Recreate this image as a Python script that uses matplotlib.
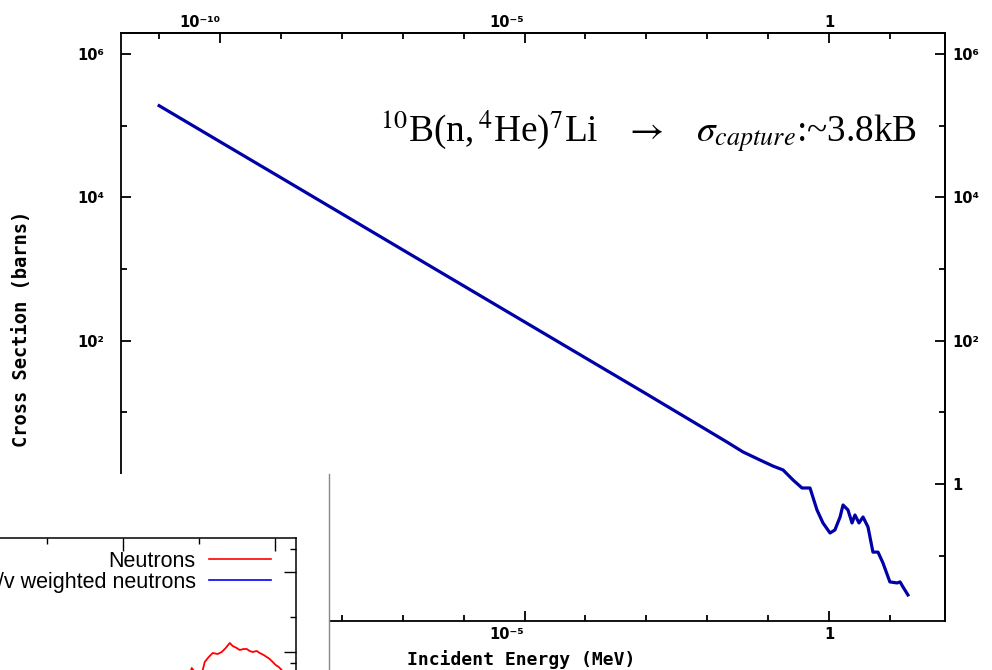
import matplotlib.pyplot as plt
from matplotlib.lines import Line2D
from matplotlib.ticker import FixedLocator, FixedFormatter, NullFormatter

plt.rcParams["mathtext.fontset"] = "stix"

# 10B(n,alpha) cross section, energy in MeV, cross section in barns
energy_mev = [1.0e-11, 1.0e-10, 1.0e-9, 1.0e-8, 1.0e-7, 1.0e-6, 1.0e-5, 1.0e-4,
              1.0e-3, 1.68e-3, 8.53e-3, 0.0211, 0.0387, 0.0736, 0.120, 0.176,
              0.256, 0.360, 0.488, 0.635, 0.796, 1.04, 1.25, 1.52, 1.70, 2.05,
              2.39, 2.67, 3.11, 3.62, 4.37, 5.27, 6.38, 7.70, 10.0, 13.1, 14.7,
              16.4, 19.8]
xs_barns = [1.90e5, 5.97e4, 1.88e4, 5.90e3, 1.85e3, 582, 183, 57.5,
            18.1, 13.9, 6.10, 3.85, 2.80, 2.16, 1.78, 1.57,
            1.14, 0.879, 0.879, 0.434, 0.286, 0.207, 0.228, 0.346, 0.509, 0.434,
            0.286, 0.369, 0.286, 0.346, 0.251, 0.112, 0.112, 0.079, 0.043, 0.0416, 0.043,
            0.0366, 0.0283]

x_major = [1e-10, 1e-5, 1.0]
x_major_labels = ["10\u207b\u00b9\u2070", "10\u207b\u2075", "1"]
x_minor = [1e-11, 1e-9, 1e-8, 1e-7, 1e-6, 1e-4, 1e-3, 1e-2, 1e-1, 10.0]
y_major = [1.0, 1e2, 1e4, 1e6]
y_major_labels = ["1", "10\u00b2", "10\u2074", "10\u2076"]
y_minor = [1e-1, 1e1, 1e3, 1e5]

# neutron spectrum panel (log10 energy, relative flux)
spec_logE = [-1.118, -1.092, -1.053, -0.987, -0.947, -0.921, -0.868, -0.816,
             -0.750, -0.697, -0.645, -0.592, -0.553, -0.500, -0.461, -0.408,
             -0.368, -0.329, -0.289, -0.237, -0.197, -0.145, -0.105, -0.066,
             -0.026, 0.013, 0.053, 0.092, 0.132]
spec_flux = [0.3125, 0.400, 0.350, 0.300, 0.375, 0.475, 0.5375, 0.5875,
             0.575, 0.600, 0.650, 0.7125, 0.675, 0.650, 0.625, 0.6375,
             0.6375, 0.6125, 0.600, 0.6125, 0.5875, 0.5625, 0.5375, 0.5125,
             0.475, 0.4375, 0.4125, 0.375, 0.3125]

W, H = 992, 670
fig = plt.figure(figsize=(W / 100, H / 100), dpi=100)

tick_font = dict(family="DejaVu Sans", weight="bold", size=10.5)

ax = fig.add_axes([121 / W, (H - 621) / H, (945 - 121) / W, (621 - 33) / H])
ax.plot(energy_mev, xs_barns, color="#0000a8", lw=2.3)
ax.set_xscale("log")
ax.set_yscale("log")
ax.set_xlim(10 ** -11.626, 10 ** 1.905)
ax.set_ylim(10 ** -1.912, 10 ** 6.293)
for s in ax.spines.values():
    s.set_linewidth(1.3)


def style_axis(axis, major, labels, minor, pad):
    axis.set_major_locator(FixedLocator(major))
    axis.set_major_formatter(FixedFormatter(labels))
    axis.set_minor_locator(FixedLocator(minor))
    axis.set_minor_formatter(NullFormatter())
    axis.set_tick_params(which="major", direction="in", length=7, width=1.3, pad=pad)
    axis.set_tick_params(which="minor", direction="in", length=4, width=1.3)
    for lab in axis.get_ticklabels():
        lab.set_fontproperties(tick_font)


style_axis(ax.xaxis, x_major, x_major_labels, x_minor, 4)
style_axis(ax.yaxis, y_major, y_major_labels, y_minor, 12)

top = ax.secondary_xaxis("top")
style_axis(top.xaxis, x_major, x_major_labels, x_minor, 2)
right = ax.secondary_yaxis("right")
style_axis(right.yaxis, y_major, y_major_labels, y_minor, 5)
for s in list(top.spines.values()) + list(right.spines.values()):
    s.set_linewidth(1.3)

# exponent labels sit to the left of their tick
for axis in (ax.xaxis, top.xaxis):
    for lab in axis.get_ticklabels():
        if lab.get_text() != "1":
            lab.set_horizontalalignment("right")

ax.set_xlabel("Incident Energy (MeV)", family="DejaVu Sans Mono",
              weight="bold", size=13)
ax.xaxis.set_label_coords((521 - 121) / 824, -(660 - 621) / 588)
ax.xaxis.label.set_va("center")
ax.set_ylabel("Cross Section (barns)", family="DejaVu Sans Mono",
              weight="bold", size=13.5)
ax.yaxis.set_label_coords(-(121 - 22) / 824, (621 - 329) / 588)
ax.yaxis.label.set_va("center")

fig.text(380 / W, (H - 142) / H,
         r"$^{10}$B(n,$\,^{4}$He)$^{7}$Li$\quad\rightarrow\quad\sigma_{capture}$:~3.8kB",
         family="Liberation Serif", fontsize=26.8, va="baseline", ha="left")

# white panel holding the spectrum plot
panel = fig.add_axes([0, 0, 329 / W, (H - 474) / H], zorder=3)
panel.set_xticks([])
panel.set_yticks([])
for name, s in panel.spines.items():
    s.set_visible(name == "right")
panel.spines["right"].set_color("#888888")
panel.spines["right"].set_linewidth(1.0)

xlo, xhi = -7.5, 0.28
ylo, yhi = 0.0, 2.025
px_x, px_y = 76.0, 80.0
w_px = (xhi - xlo) * px_x
h_px = (yhi - ylo) * px_y
ax_in = fig.add_axes([(296 - w_px) / W, (H - 538 - h_px) / H, w_px / W, h_px / H],
                     zorder=4)
ax_in.patch.set_alpha(0)
ax_in.plot(spec_logE, spec_flux, color="red", lw=1.3)
ax_in.set_xlim(xlo, xhi)
ax_in.set_ylim(ylo, yhi)
ax_in.set_xticks([-2, 0])
ax_in.set_xticks([-3, -1], minor=True)
ax_in.set_yticks([0.6, 1.6])
ax_in.set_yticks([0.4625, 1.0375, 1.8875], minor=True)
ax_in.tick_params(which="both", direction="in", top=True, right=True,
                  bottom=False, left=False, labelbottom=False, labelleft=False,
                  width=1.0)
ax_in.tick_params(which="major", length=9)
ax_in.tick_params(which="minor", length=4)
for s in ax_in.spines.values():
    s.set_linewidth(1.1)

handles = [Line2D([], [], color="red", lw=1.2),
           Line2D([], [], color="blue", lw=1.2)]
ax_in.legend(handles, ["Neutrons", "1/v weighted neutrons"], loc="upper right",
             bbox_to_anchor=(271 / W, (H - 551) / H), bbox_transform=fig.transFigure,
             markerfirst=False, frameon=False, borderpad=0, borderaxespad=0,
             handlelength=2.9, handletextpad=0.6, labelspacing=0.0,
             prop=dict(family="Liberation Sans", size=15.5))

fig.savefig("out.png", dpi=100, facecolor="white")
